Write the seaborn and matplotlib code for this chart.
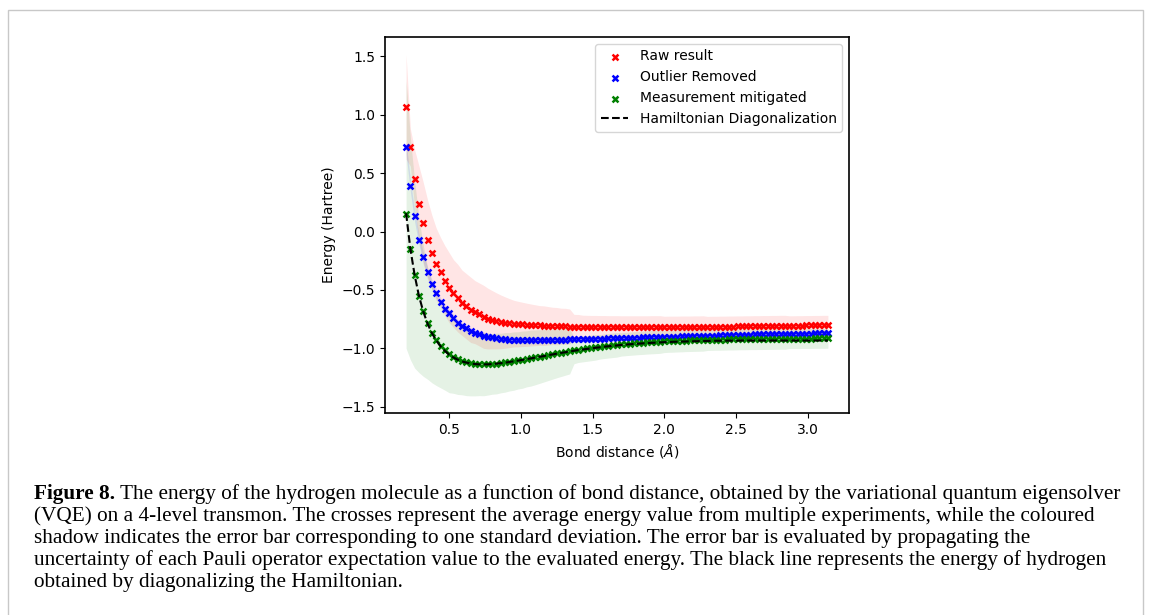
import numpy as np
import pandas as pd
import seaborn as sns
import matplotlib.pyplot as plt
from matplotlib.patches import Rectangle

# bond distances (Angstrom)
bond = [0.20, 0.23, 0.26, 0.29, 0.32, 0.35, 0.38, 0.41, 0.44, 0.47,
        0.50, 0.53, 0.56, 0.59, 0.62, 0.65, 0.68, 0.71, 0.74, 0.77,
        0.80, 0.83, 0.86, 0.89, 0.92, 0.95, 0.98, 1.01, 1.04, 1.07,
        1.10, 1.13, 1.16, 1.19, 1.22, 1.25, 1.28, 1.31, 1.34, 1.37,
        1.40, 1.43, 1.46, 1.49, 1.52, 1.55, 1.58, 1.61, 1.64, 1.67,
        1.70, 1.73, 1.76, 1.79, 1.82, 1.85, 1.88, 1.91, 1.94, 1.97,
        2.00, 2.03, 2.06, 2.09, 2.12, 2.15, 2.18, 2.21, 2.24, 2.27,
        2.30, 2.33, 2.36, 2.39, 2.42, 2.45, 2.48, 2.51, 2.54, 2.57,
        2.60, 2.63, 2.66, 2.69, 2.72, 2.75, 2.78, 2.81, 2.84, 2.87,
        2.90, 2.93, 2.96, 2.99, 3.02, 3.05, 3.08, 3.11, 3.14]

# Raw result
raw = [1.07, 0.72, 0.45, 0.24, 0.07, -0.07, -0.18, -0.28, -0.35, -0.42,
       -0.48, -0.53, -0.57, -0.61, -0.64, -0.67, -0.69, -0.71, -0.73, -0.745,
       -0.755, -0.765, -0.773, -0.779, -0.784, -0.788, -0.792, -0.795, -0.798, -0.800,
       -0.802, -0.804, -0.806, -0.807, -0.808, -0.810, -0.811, -0.812, -0.813, -0.814,
       -0.815, -0.816, -0.817, -0.818, -0.818, -0.819, -0.819, -0.820, -0.820, -0.820,
       -0.821, -0.821, -0.821, -0.821, -0.821, -0.821, -0.821, -0.820, -0.820, -0.820,
       -0.820, -0.819, -0.819, -0.819, -0.818, -0.818, -0.818, -0.817, -0.817, -0.816,
       -0.816, -0.815, -0.815, -0.814, -0.814, -0.813, -0.813, -0.812, -0.812, -0.811,
       -0.811, -0.810, -0.810, -0.809, -0.809, -0.808, -0.808, -0.807, -0.807, -0.806,
       -0.806, -0.805, -0.805, -0.804, -0.804, -0.803, -0.803, -0.802, -0.802]
raw_std = [0.45, 0.16, 0.25, 0.32, 0.35, 0.34, 0.32, 0.31, 0.30, 0.30,
           0.30, 0.29, 0.29, 0.28, 0.28, 0.28, 0.27, 0.27, 0.27, 0.26,
           0.25, 0.24, 0.23, 0.22, 0.21, 0.20, 0.195, 0.19, 0.185, 0.18,
           0.175, 0.17, 0.17, 0.165, 0.16, 0.16, 0.155, 0.155, 0.15, 0.105,
           0.105, 0.10, 0.10, 0.10, 0.10, 0.10, 0.10, 0.10, 0.10, 0.10,
           0.10, 0.10, 0.10, 0.10, 0.10, 0.10, 0.10, 0.10, 0.10, 0.10,
           0.095, 0.095, 0.095, 0.095, 0.095, 0.095, 0.095, 0.095, 0.095, 0.095,
           0.09, 0.09, 0.09, 0.09, 0.09, 0.09, 0.09, 0.09, 0.09, 0.09,
           0.09, 0.09, 0.09, 0.09, 0.09, 0.09, 0.09, 0.09, 0.09, 0.085,
           0.085, 0.085, 0.085, 0.085, 0.085, 0.085, 0.085, 0.085, 0.085]

# Outlier removed
outlier = [0.72, 0.39, 0.13, -0.07, -0.22, -0.35, -0.45, -0.53, -0.60, -0.66,
           -0.70, -0.74, -0.78, -0.81, -0.83, -0.85, -0.865, -0.88, -0.89, -0.90,
           -0.907, -0.913, -0.918, -0.922, -0.925, -0.928, -0.930, -0.931, -0.932, -0.932,
           -0.932, -0.931, -0.930, -0.929, -0.928, -0.927, -0.926, -0.925, -0.924, -0.923,
           -0.922, -0.921, -0.920, -0.919, -0.918, -0.917, -0.916, -0.915, -0.914, -0.913,
           -0.912, -0.911, -0.910, -0.909, -0.908, -0.907, -0.906, -0.905, -0.904, -0.903,
           -0.902, -0.901, -0.900, -0.899, -0.898, -0.897, -0.896, -0.895, -0.894, -0.893,
           -0.892, -0.891, -0.890, -0.889, -0.888, -0.887, -0.886, -0.885, -0.884, -0.883,
           -0.882, -0.881, -0.880, -0.879, -0.878, -0.877, -0.877, -0.876, -0.876, -0.875,
           -0.875, -0.874, -0.874, -0.873, -0.873, -0.872, -0.872, -0.871, -0.871]
outlier_std = [0.06, 0.05, 0.05, 0.045, 0.045, 0.04, 0.04, 0.04, 0.035, 0.035,
               0.035, 0.03, 0.03, 0.03, 0.03, 0.03, 0.03, 0.03, 0.03, 0.03,
               0.03, 0.03, 0.03, 0.03, 0.03, 0.03, 0.03, 0.03, 0.03, 0.03,
               0.03, 0.03, 0.03, 0.03, 0.03, 0.03, 0.03, 0.03, 0.03, 0.025,
               0.025, 0.025, 0.025, 0.025, 0.025, 0.025, 0.025, 0.025, 0.025, 0.025,
               0.025, 0.025, 0.025, 0.025, 0.025, 0.025, 0.025, 0.025, 0.025, 0.025,
               0.02, 0.02, 0.02, 0.02, 0.02, 0.02, 0.02, 0.02, 0.02, 0.02,
               0.02, 0.02, 0.02, 0.02, 0.02, 0.02, 0.02, 0.02, 0.02, 0.02,
               0.02, 0.02, 0.02, 0.02, 0.02, 0.02, 0.02, 0.02, 0.02, 0.02,
               0.02, 0.02, 0.02, 0.02, 0.02, 0.02, 0.02, 0.02, 0.02]

# Measurement mitigated
mitigated = [0.150, -0.148, -0.370, -0.548, -0.680, -0.785, -0.865, -0.928, -0.978, -1.018,
             -1.050, -1.075, -1.095, -1.108, -1.120, -1.127, -1.132, -1.135, -1.136, -1.135,
             -1.133, -1.130, -1.126, -1.120, -1.115, -1.109, -1.103, -1.097, -1.090, -1.083,
             -1.077, -1.070, -1.063, -1.056, -1.049, -1.042, -1.036, -1.030, -1.024, -1.017,
             -1.011, -1.006, -1.001, -0.996, -0.991, -0.987, -0.982, -0.978, -0.974, -0.970,
             -0.966, -0.963, -0.960, -0.957, -0.954, -0.952, -0.949, -0.947, -0.945, -0.943,
             -0.941, -0.939, -0.938, -0.936, -0.935, -0.933, -0.932, -0.931, -0.930, -0.929,
             -0.928, -0.927, -0.926, -0.926, -0.925, -0.924, -0.924, -0.923, -0.922, -0.922,
             -0.921, -0.921, -0.920, -0.920, -0.919, -0.919, -0.918, -0.918, -0.918, -0.917,
             -0.917, -0.917, -0.916, -0.916, -0.916, -0.915, -0.915, -0.915, -0.914]
mitigated_std = [1.15, 0.95, 0.80, 0.66, 0.56, 0.48, 0.43, 0.39, 0.36, 0.34,
                 0.33, 0.31, 0.30, 0.29, 0.285, 0.28, 0.275, 0.27, 0.27, 0.265,
                 0.26, 0.26, 0.255, 0.255, 0.25, 0.25, 0.245, 0.245, 0.24, 0.24,
                 0.235, 0.23, 0.225, 0.22, 0.215, 0.21, 0.205, 0.20, 0.195, 0.115,
                 0.11, 0.11, 0.11, 0.11, 0.11, 0.105, 0.105, 0.105, 0.105, 0.105,
                 0.10, 0.10, 0.10, 0.10, 0.10, 0.10, 0.10, 0.10, 0.10, 0.10,
                 0.095, 0.095, 0.095, 0.095, 0.095, 0.095, 0.095, 0.095, 0.095, 0.095,
                 0.09, 0.09, 0.09, 0.09, 0.09, 0.09, 0.09, 0.09, 0.09, 0.09,
                 0.09, 0.09, 0.09, 0.09, 0.09, 0.09, 0.09, 0.09, 0.09, 0.085,
                 0.085, 0.085, 0.085, 0.085, 0.085, 0.085, 0.085, 0.085, 0.085]

# Hamiltonian diagonalization
exact = [0.157, -0.150, -0.375, -0.553, -0.686, -0.790, -0.870, -0.932, -0.982, -1.021,
         -1.055, -1.078, -1.097, -1.112, -1.122, -1.130, -1.134, -1.137, -1.137, -1.137,
         -1.134, -1.131, -1.127, -1.122, -1.117, -1.111, -1.105, -1.099, -1.092, -1.086,
         -1.079, -1.072, -1.066, -1.059, -1.052, -1.046, -1.039, -1.033, -1.027, -1.021,
         -1.015, -1.010, -1.005, -1.000, -0.995, -0.991, -0.986, -0.982, -0.978, -0.975,
         -0.971, -0.968, -0.965, -0.962, -0.960, -0.957, -0.955, -0.953, -0.951, -0.949,
         -0.947, -0.946, -0.944, -0.943, -0.942, -0.941, -0.940, -0.939, -0.938, -0.937,
         -0.937, -0.936, -0.935, -0.935, -0.934, -0.934, -0.934, -0.934, -0.933, -0.933,
         -0.933, -0.933, -0.933, -0.933, -0.933, -0.933, -0.933, -0.933, -0.933, -0.933,
         -0.933, -0.933, -0.933, -0.933, -0.933, -0.933, -0.933, -0.933, -0.933]

caption = [
    "The energy of the hydrogen molecule as a function of bond distance, obtained by the variational quantum eigensolver",
    "(VQE) on a 4-level transmon. The crosses represent the average energy value from multiple experiments, while the coloured",
    "shadow indicates the error bar corresponding to one standard deviation. The error bar is evaluated by propagating the",
    "uncertainty of each Pauli operator expectation value to the evaluated energy. The black line represents the energy of hydrogen",
    "obtained by diagonalizing the Hamiltonian.",
]

df = pd.DataFrame({'bond': bond, 'raw': raw, 'raw_std': raw_std,
                   'outlier': outlier, 'outlier_std': outlier_std,
                   'mitigated': mitigated, 'mitigated_std': mitigated_std,
                   'exact': exact})

plt.rcParams['axes.linewidth'] = 1.2
fig = plt.figure(figsize=(11.52, 6.15), dpi=100)
ax = fig.add_axes([0.3342, 0.3285, 0.4028, 0.6114])

# shaded one-sigma bands
for col, c in [('raw', 'red'), ('outlier', 'blue'), ('mitigated', 'green')]:
    ax.fill_between(df['bond'], df[col] - df[col + '_std'], df[col] + df[col + '_std'],
                    color=c, alpha=0.1, linewidth=0)

sns.scatterplot(data=df, x='bond', y='raw', color='red', marker='x', s=18,
                linewidth=1.8, label='Raw result', ax=ax)
sns.scatterplot(data=df, x='bond', y='outlier', color='blue', marker='x', s=18,
                linewidth=1.8, label='Outlier Removed', ax=ax)
sns.scatterplot(data=df, x='bond', y='mitigated', color='green', marker='x', s=18,
                linewidth=1.8, label='Measurement mitigated', ax=ax)
sns.lineplot(data=df, x='bond', y='exact', color='black', linestyle='--', linewidth=1.5,
             label='Hamiltonian Diagonalization', ax=ax)

ax.set_xlabel('Bond distance ($Å$)')
ax.set_ylabel('Energy (Hartree)')
ax.set_xticks([0.5, 1.0, 1.5, 2.0, 2.5, 3.0])
ax.set_yticks([-1.5, -1.0, -0.5, 0.0, 0.5, 1.0, 1.5])
ax.legend(loc='upper right')

# frame of the figure panel
fig.add_artist(Rectangle((8 / 1152, -0.02), 1135 / 1152, 1.02 - 10 / 615,
                         transform=fig.transFigure, fill=False,
                         edgecolor='#c8c8c8', linewidth=1.0))

# caption
serif = 'Liberation Serif'
fs = 15.3
y0 = 1 - 494 / 615
dy = 22 / 615
head = fig.text(34 / 1152, y0, 'Figure 8.', family=serif, weight='bold',
                fontsize=fs, va='center', ha='left')
ax.annotate(' ' + caption[0], xy=(1, 0), xycoords=head, va='bottom', ha='left',
            family=serif, fontsize=fs, annotation_clip=False)
for i, line in enumerate(caption[1:], start=1):
    fig.text(34 / 1152, y0 - i * dy, line, family=serif, fontsize=fs,
             va='center', ha='left')

fig.savefig('out.png', dpi=100)
